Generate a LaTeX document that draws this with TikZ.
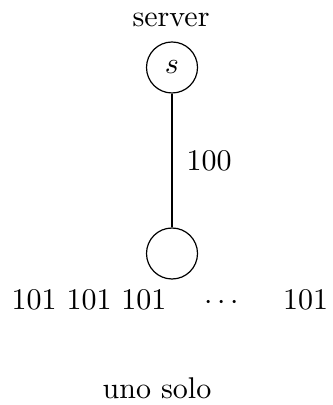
\documentclass[tikz,border=0pt]{standalone}
\usepackage{tikz}
\usetikzlibrary{positioning}
\tikzset{
  vertex/.style = {draw, circle, minimum size=17pt, inner sep=0pt},
  lbl/.style    = {anchor=base, inner sep=0pt}
}

\begin{document}
\begin{tikzpicture}[x=1pt/3, y=-1pt/3]
  \useasboundingbox (0,0) rectangle (333,405);

  %% tree nodes
  \node[vertex] (srv)  at (172,67.5)  {$s$};
  \node[vertex] (solo) at (172,253.5) {};

  %% texts
  \node[lbl] (srvname) at (171,27)   {server};
  \node[lbl] (leaves)  at (89,309)   {101 101 101};
  \node[lbl] (dots)    at (221.5,309) {$\cdots$};
  \node[lbl] (last)    at (305.5,309) {101};
  \node[lbl] (caption) at (157,398)  {uno solo};

  %% edge
  \draw (srv) -- node[right=1.3pt]{100} (solo);
\end{tikzpicture}
\end{document}
